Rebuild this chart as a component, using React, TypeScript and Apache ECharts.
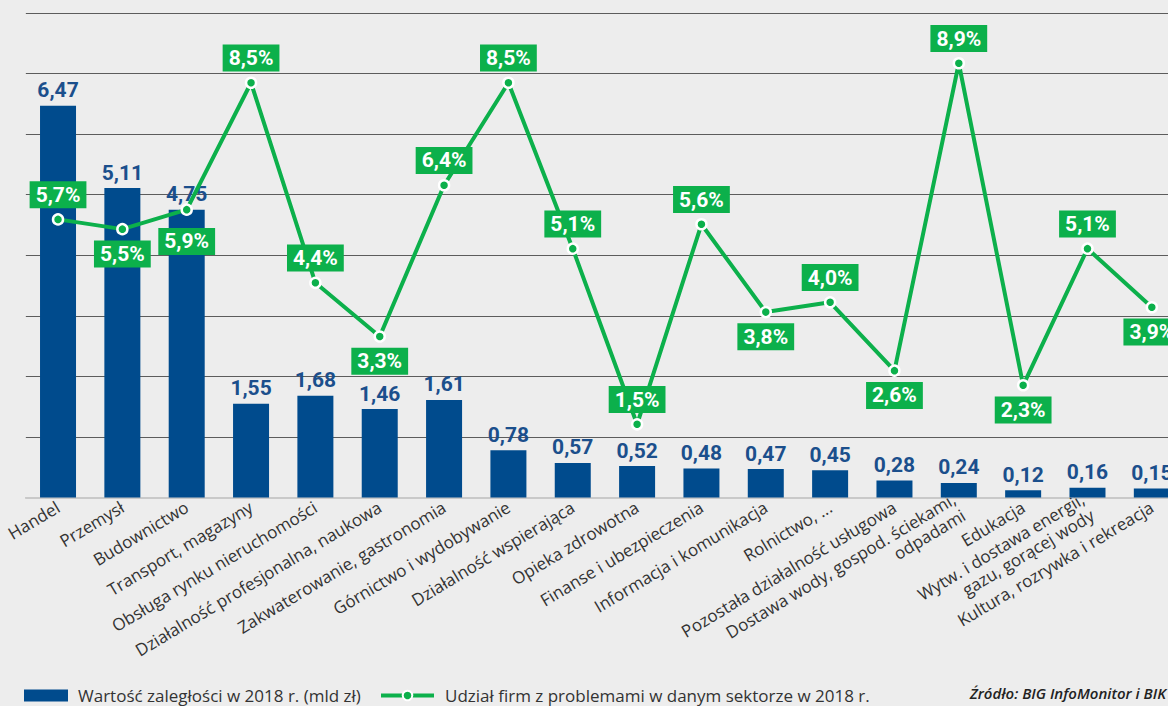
import React, { useEffect, useRef } from "react";
import * as echarts from "echarts";

const categories = [
  "Handel",
  "Przemysł",
  "Budownictwo",
  "Transport, magazyny",
  "Obsługa rynku nieruchomości",
  "Działalność profesjonalna, naukowa",
  "Zakwaterowanie, gastronomia",
  "Górnictwo i wydobywanie",
  "Działalność wspierająca",
  "Opieka zdrowotna",
  "Finanse i ubezpieczenia",
  "Informacja i komunikacja",
  "Rolnictwo, ...",
  "Pozostała działalność usługowa",
  "Dostawa wody, gospod. ściekami,\nodpadami",
  "Edukacja",
  "Wytw. i dostawa energii,\ngazu, gorącej wody",
  "Kultura, rozrywka i rekreacja",
];

const debtValues = [6.47, 5.11, 4.75, 1.55, 1.68, 1.46, 1.61, 0.78, 0.57, 0.52, 0.48, 0.47, 0.45, 0.28, 0.24, 0.12, 0.16, 0.15];

const shareValues = [5.7, 5.5, 5.9, 8.5, 4.4, 3.3, 6.4, 8.5, 5.1, 1.5, 5.6, 3.8, 4.0, 2.6, 8.9, 2.3, 5.1, 3.9];

const barName = "Wartość zaległości w 2018 r. (mld zł)";
const lineName = "Udział firm z problemami w danym sektorze w 2018 r.";
const sourceText = "Źródło: BIG InfoMonitor i BIK";

// label placement (style): indices whose line label sits below the point
const belowLabels = [1, 2, 5, 11, 13, 15, 17];

const BLUE = "#004b8d";
const BLUE_TEXT = "#1b4f8c";
const GREEN = "#0cb04b";

export default function App() {
  const ref = useRef<HTMLDivElement>(null);

  useEffect(() => {
    if (!ref.current) return;
    const chart = echarts.init(ref.current, undefined, { renderer: "svg" });

    const lineData = shareValues.map((v, i) => {
      const below = belowLabels.includes(i);
      return {
        value: v,
        label: {
          position: below ? "bottom" : "top",
          distance: i === 2 ? 12 : 5,
        },
      };
    });

    chart.setOption({
      animation: false,
      backgroundColor: "#ededed",
      grid: { left: 25.85, right: 0, top: 13, bottom: 208.5, containLabel: false },
      xAxis: {
        type: "category",
        data: categories,
        axisTick: { show: false },
        axisLine: { show: true, lineStyle: { color: "#c9c9c9", width: 2 } },
        axisLabel: {
          interval: 0,
          rotate: 31,
          margin: 8,
          color: "#333333",
          fontFamily: "'Open Sans', sans-serif",
          fontSize: 17,
          lineHeight: 19,
        },
      },
      yAxis: [
        {
          type: "value",
          min: 0,
          max: 8,
          interval: 1,
          axisLabel: { show: false },
          axisLine: { show: false },
          axisTick: { show: false },
          splitLine: { show: true, lineStyle: { color: "#5c5c5c", width: 1 } },
        },
        {
          type: "value",
          min: 0,
          max: 9.93,
          axisLabel: { show: false },
          axisLine: { show: false },
          axisTick: { show: false },
          splitLine: { show: false },
        },
      ],
      legend: [
        {
          data: [{ name: barName, icon: "rect" }],
          left: 19,
          top: 682,
          itemWidth: 44,
          itemHeight: 12,
          textStyle: {
            color: "#333333",
            fontFamily: "'Open Sans', sans-serif",
            fontSize: 17,
            padding: [0, 0, 0, 5],
          },
        },
        {
          data: [{ name: lineName }],
          left: 374,
          top: 682,
          itemWidth: 53,
          itemHeight: 12,
          lineStyle: { width: 4, color: GREEN },
          itemStyle: { color: GREEN, borderColor: "#ffffff", borderWidth: 2 },
          textStyle: {
            color: "#333333",
            fontFamily: "'Open Sans', sans-serif",
            fontSize: 17,
            padding: [0, 0, 0, 6],
          },
        },
      ],
      graphic: [
        {
          type: "text",
          right: 18,
          top: 685,
          style: {
            text: sourceText,
            fill: "#222222",
            font: "italic 600 15px 'Open Sans', sans-serif",
          },
        },
      ],
      series: [
        {
          name: barName,
          type: "bar",
          data: debtValues,
          barWidth: 36,
          itemStyle: { color: BLUE },
          label: {
            show: true,
            position: "top",
            distance: 5,
            color: BLUE_TEXT,
            fontFamily: "Roboto, sans-serif",
            fontWeight: "bold",
            fontSize: 21,
            formatter: (p: any) => p.value.toFixed(2).replace(".", ","),
          },
        },
        {
          name: lineName,
          type: "line",
          yAxisIndex: 1,
          data: lineData,
          symbol: "circle",
          symbolSize: 10,
          lineStyle: { color: GREEN, width: 4 },
          itemStyle: { color: GREEN, borderColor: "#ffffff", borderWidth: 2.5 },
          label: {
            show: true,
            color: "#ffffff",
            backgroundColor: GREEN,
            padding: [3, 6, 3, 6],
            fontFamily: "Roboto, sans-serif",
            fontWeight: "bold",
            fontSize: 21,
            lineHeight: 21,
            formatter: (p: any) => p.value.toFixed(1).replace(".", ",") + "%",
          },
          z: 3,
        },
      ],
    });

    return () => chart.dispose();
  }, []);

  return (
    <div
      style={{
        position: "fixed",
        left: 0,
        top: 0,
        width: 1168,
        height: 706,
        overflow: "hidden",
      }}
    >
      <div ref={ref} style={{ width: 1184, height: 706 }} />
    </div>
  );
}
